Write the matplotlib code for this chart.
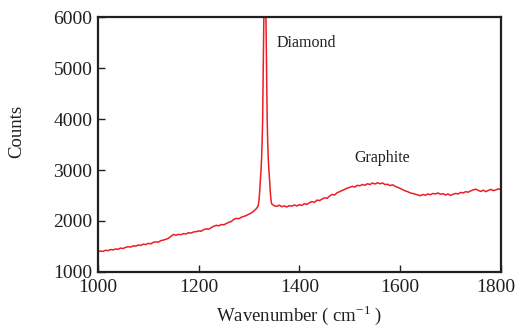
import matplotlib
matplotlib.use("Agg")
import matplotlib.pyplot as plt
import matplotlib.transforms as mtransforms
import numpy as np

plt.rcParams['font.family'] = ['Liberation Serif', 'DejaVu Serif']
plt.rcParams['mathtext.fontset'] = 'custom'
plt.rcParams['mathtext.rm'] = 'Liberation Serif'

# Raman spectrum: wavenumber (cm^-1) and counts
wn_left = [1000, 1005, 1010, 1015, 1020, 1025, 1030, 1035, 1040, 1045, 1050, 1055,
           1060, 1065, 1070, 1075, 1080, 1085, 1090, 1095, 1100, 1105, 1110, 1115,
           1120, 1125, 1130, 1135, 1140, 1145, 1150, 1155, 1160, 1165, 1170, 1175,
           1180, 1185, 1190, 1195, 1200, 1205, 1210, 1215, 1220, 1225, 1230, 1235,
           1240, 1245, 1250, 1255, 1260, 1265, 1270, 1275, 1280, 1285, 1290, 1295,
           1300, 1305, 1310, 1315]
counts_left = [1395, 1410, 1402, 1425, 1418, 1440, 1432, 1450, 1445, 1468, 1460, 1482,
               1495, 1488, 1512, 1505, 1528, 1520, 1545, 1538, 1560, 1552, 1580, 1590,
               1585, 1615, 1625, 1640, 1660, 1700, 1735, 1720, 1738, 1730, 1752, 1745,
               1770, 1762, 1785, 1790, 1805, 1798, 1830, 1845, 1838, 1870, 1895, 1915,
               1905, 1930, 1925, 1950, 1975, 1990, 2035, 2050, 2045, 2075, 2090, 2110,
               2135, 2160, 2200, 2245]

wn_peak = [1318, 1319, 1320, 1321, 1322, 1323, 1324, 1325, 1326, 1327, 1328, 1329,
           1330, 1331, 1332, 1333, 1334, 1335, 1336, 1337, 1338, 1339, 1340, 1341,
           1342, 1343, 1344, 1345]
counts_peak = [2295, 2345, 2435, 2560, 2730, 2880, 3030, 3240, 3540, 3980, 4770, 5620,
               6470, 7120, 7150, 6500, 5650, 4800, 4010, 3570, 3270, 3060, 2920, 2770,
               2600, 2475, 2385, 2335]

wn_right = [1350, 1355, 1360, 1365, 1370, 1375, 1380, 1385, 1390, 1395, 1400, 1405,
            1410, 1415, 1420, 1425, 1430, 1435, 1440, 1445, 1450, 1455, 1460, 1465,
            1470, 1475, 1480, 1485, 1490, 1495, 1500, 1505, 1510, 1515, 1520, 1525,
            1530, 1535, 1540, 1545, 1550, 1555, 1560, 1565, 1570, 1575, 1580, 1585,
            1590, 1595, 1600, 1605, 1610, 1615, 1620, 1625, 1630, 1635, 1640, 1645,
            1650, 1655, 1660, 1665, 1670, 1675, 1680, 1685, 1690, 1695, 1700, 1705,
            1710, 1715, 1720, 1725, 1730, 1735, 1740, 1745, 1750, 1755, 1760, 1765,
            1770, 1775, 1780, 1785, 1790, 1795, 1800]
counts_right = [2300, 2285, 2310, 2280, 2295, 2275, 2300, 2290, 2315, 2295, 2320, 2305,
                2340, 2325, 2360, 2380, 2365, 2410, 2400, 2430, 2455, 2445, 2490, 2520,
                2510, 2555, 2575, 2600, 2620, 2645, 2660, 2680, 2665, 2700, 2690, 2715,
                2700, 2730, 2715, 2745, 2725, 2750, 2730, 2745, 2715, 2720, 2695, 2710,
                2680, 2660, 2640, 2615, 2590, 2575, 2550, 2540, 2525, 2510, 2495, 2520,
                2505, 2530, 2515, 2540, 2530, 2550, 2525, 2535, 2510, 2530, 2500, 2525,
                2540, 2530, 2560, 2550, 2575, 2565, 2590, 2610, 2625, 2600, 2580, 2605,
                2575, 2600, 2620, 2595, 2610, 2630, 2615]

x_ticks = [1000, 1200, 1400, 1600, 1800]
y_ticks = [1000, 2000, 3000, 4000, 5000, 6000]
annotations = [("Diamond", 1354, 5500), ("Graphite", 1510, 3230)]

wn = wn_left + wn_peak + wn_right
counts = counts_left + counts_peak + counts_right

fig = plt.figure(figsize=(5.18, 3.30), dpi=100)
ax = fig.add_axes([0.189, 0.176, 0.778, 0.772])
ax.plot(wn, counts, color='#ee1c24', lw=1.1)
ax.set_xlim(1000, 1800)
ax.set_ylim(1000, 6000)
ax.set_xticks(x_ticks)
ax.set_yticks(y_ticks)
for s in ax.spines.values():
    s.set_linewidth(1.6)
    s.set_color('#231f20')
ax.tick_params(axis='both', direction='in', length=5, width=1.0, colors='#231f20',
               labelsize=14, labelcolor='#231f20')
ax.tick_params(axis='x', pad=5)
ax.tick_params(axis='y', pad=4)
ax.set_xlabel('Wavenumber ( cm$^{-1}$ )', fontsize=13.5, color='#231f20', labelpad=5)
ax.set_ylabel('Counts', fontsize=13.5, color='#231f20')
ax.yaxis.set_label_coords(-0.18, 0.55)
for txt, xx, yy in annotations:
    ax.text(xx, yy, txt, fontsize=11.5, color='#231f20', ha='left', va='center')

# nudge the last x tick label inward so it stays inside the figure
fig.canvas.draw()
lab = ax.get_xticklabels()[-1]
lab.set_transform(lab.get_transform() + mtransforms.ScaledTranslation(-4 / 72, 0, fig.dpi_scale_trans))

fig.savefig('out.png', dpi=100)
